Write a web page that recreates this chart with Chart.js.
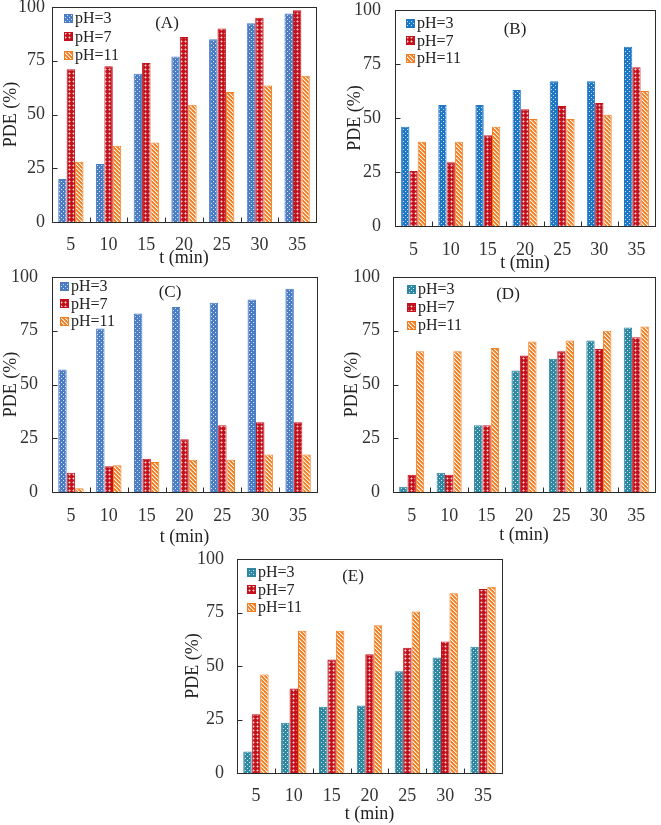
<!DOCTYPE html>
<html>
<head>
<meta charset="utf-8">
<script src="https://cdn.jsdelivr.net/npm/chart.js@4.4.0/dist/chart.umd.min.js"></script>
<style>
  body { margin: 0; background: #fff; width: 661px; height: 825px; position: relative; overflow: hidden; }
  canvas { position: absolute; }
</style>
</head>
<body>
<canvas id="cA"></canvas>
<canvas id="cB"></canvas>
<canvas id="cC"></canvas>
<canvas id="cD"></canvas>
<canvas id="cE"></canvas>
<script>
// data
var times = ['5', '10', '15', '20', '25', '30', '35'];
var phLabels = ['pH=3', 'pH=7', 'pH=11'];
var yTicks = [0, 25, 50, 75, 100];
var panelNames = ['(A)', '(B)', '(C)', '(D)', '(E)'];

var a_ph3  = [20, 27, 69, 77, 85, 92.5, 97];
var a_ph7  = [71, 72.5, 74, 86, 90, 95, 98.5];
var a_ph11 = [28, 35.5, 37, 54.5, 60.5, 63.5, 68];

var b_ph3  = [46, 56, 56, 63, 67, 67, 83];
var b_ph7  = [25.5, 29.5, 42, 54, 55.5, 57, 73.5];
var b_ph11 = [39, 39, 46, 49.5, 49.5, 51.5, 62.5];

var c_ph3  = [57, 76, 83, 86, 88, 89.5, 94.5];
var c_ph7  = [9, 12, 15.5, 24.5, 31, 32.5, 32.5];
var c_ph11 = [1.7, 12.5, 14, 15, 15, 17.5, 17.5];

var d_ph3  = [2.5, 9, 31, 56.5, 62, 70.5, 76.5];
var d_ph7  = [8, 8, 31, 63.5, 65.5, 66.5, 72];
var d_ph11 = [65.5, 65.5, 67, 70, 70.5, 75, 77];

var e_ph3  = [10, 23.5, 31, 31.5, 47.5, 54, 59];
var e_ph7  = [27.5, 39.5, 53, 55.5, 58.5, 61.5, 86];
var e_ph11 = [46, 66.5, 66.5, 69, 75.5, 84, 87];

Chart.defaults.font.family = '"Liberation Serif", "Times New Roman", serif';
Chart.defaults.color = '#333';

function makeTile(base, draw) {
  var c = document.createElement('canvas');
  c.width = 4; c.height = 4;
  var g = c.getContext('2d');
  g.fillStyle = base;
  g.fillRect(0, 0, 4, 4);
  draw(g);
  return g.createPattern(c, 'repeat');
}

function dots(base) {
  return makeTile(base, function (g) {
    g.fillStyle = 'rgba(255,255,255,0.8)';
    g.fillRect(1, 1, 1, 1);
    g.fillRect(3, 3, 1, 1);
  });
}

function checks(base) {
  return makeTile(base, function (g) {
    g.fillStyle = 'rgba(255,255,255,0.85)';
    g.fillRect(1, 1, 1, 1);
    g.fillStyle = 'rgba(255,255,255,0.4)';
    g.fillRect(0, 1, 1, 1); g.fillRect(2, 1, 1, 1);
    g.fillRect(1, 0, 1, 1); g.fillRect(1, 2, 1, 1);
  });
}

function stripes(base) {
  return makeTile(base, function (g) {
    for (var i = 0; i < 4; i++) {
      g.fillStyle = 'rgba(255,255,255,0.95)';
      g.fillRect(i, i, 1, 1);
      g.fillStyle = 'rgba(255,255,255,0.4)';
      g.fillRect((i + 1) % 4, i, 1, 1);
    }
  });
}

var RED = '#C4121D';
var ORANGE = '#F47E1F';

var framePlugin = {
  id: 'frame',
  afterDraw: function (chart, args, opt) {
    var ctx = chart.ctx, a = chart.chartArea;
    var x = chart.scales.x, y = chart.scales.y;
    ctx.save();
    ctx.strokeStyle = '#2a2a2a';
    ctx.lineWidth = 1;
    var l = Math.round(a.left) + 0.5, t = Math.round(a.top) + 0.5;
    var r = Math.round(a.right) + 0.5, b = Math.round(a.bottom) + 0.5;
    ctx.strokeRect(l, t, r - l, b - t);
    ctx.beginPath();
    y.ticks.forEach(function (tk) {
      var py = Math.round(y.getPixelForValue(tk.value)) + 0.5;
      ctx.moveTo(l, py); ctx.lineTo(l + 5, py);
    });
    for (var i = 0; i < x.ticks.length - 1; i++) {
      var px = Math.round((x.getPixelForTick(i) + x.getPixelForTick(i + 1)) / 2) + 0.5;
      ctx.moveTo(px, b); ctx.lineTo(px, b - 5);
    }
    ctx.stroke();

    // legend inside the plot
    ctx.font = '16px "Liberation Serif"';
    ctx.textBaseline = 'middle';
    ctx.textAlign = 'left';
    chart.data.datasets.forEach(function (ds, k) {
      var cy = a.top + opt.legY + k * opt.legGap;
      var bx = a.left + opt.legX;
      ctx.fillStyle = ds.backgroundColor;
      ctx.fillRect(bx, Math.round(cy - 4.5), 9, 9);
      ctx.strokeStyle = ds.borderColor;
      ctx.strokeRect(bx + 0.5, Math.round(cy - 4.5) + 0.5, 8, 8);
      ctx.fillStyle = '#222';
      ctx.fillText(ds.label, bx + 11, cy + 1);
    });

    ctx.font = '17px "Liberation Serif"';
    ctx.textAlign = 'center';
    ctx.fillStyle = '#222';
    ctx.fillText(opt.name, a.left + opt.nameX, a.top + opt.nameY);
    ctx.restore();
  }
};

function panel(id, pos, blue, s3, s7, s11, name) {
  var cv = document.getElementById(id);
  cv.width = pos.w; cv.height = pos.h;
  cv.style.left = pos.x + 'px';
  cv.style.top = pos.y + 'px';
  cv.style.width = pos.w + 'px';
  cv.style.height = pos.h + 'px';

  return new Chart(cv, {
    type: 'bar',
    data: {
      labels: times,
      datasets: [
        { label: phLabels[0], data: s3, backgroundColor: dots(blue), borderColor: blue, borderWidth: 1 },
        { label: phLabels[1], data: s7, backgroundColor: checks(RED), borderColor: RED, borderWidth: 1 },
        { label: phLabels[2], data: s11, backgroundColor: stripes(ORANGE), borderColor: ORANGE, borderWidth: 1 }
      ]
    },
    options: {
      responsive: false,
      animation: false,
      devicePixelRatio: 1,
      layout: { padding: { left: 0, top: pos.pt, right: pos.pr, bottom: 0 } },
      datasets: { bar: { barPercentage: 1, categoryPercentage: 0.67 } },
      plugins: {
        legend: { display: false },
        tooltip: { enabled: false },
        frame: { name: name, legX: pos.legX, legY: pos.legY, legGap: pos.legGap, nameX: pos.nameX, nameY: pos.nameY }
      },
      scales: {
        x: {
          grid: { display: false, drawTicks: false },
          border: { display: false },
          ticks: { font: { size: 18 }, padding: pos.xPad, color: '#333', maxRotation: 0 },
          title: { display: true, text: 't (min)', font: { size: 18 }, color: '#222', padding: 0 },
          afterFit: function (s) { s.height = pos.xh; s.paddingLeft = 0; s.paddingRight = 0; }
        },
        y: {
          min: yTicks[0],
          max: yTicks[yTicks.length - 1],
          grid: { display: false, drawTicks: false },
          border: { display: false },
          ticks: { stepSize: yTicks[1] - yTicks[0], font: { size: 18 }, padding: pos.yPad, color: '#333' },
          title: { display: true, text: 'PDE (%)', font: { size: 18 }, color: '#222', padding: { top: pos.ytp, bottom: 0 } },
          afterFit: function (s) { s.width = pos.yw; s.paddingTop = 0; s.paddingBottom = 0; }
        }
      }
    },
    plugins: [framePlugin]
  });
}

panel('cA', { x: 0, y: 0, w: 330, h: 269, pt: 7, pr: 14, xh: 47, yw: 52, xPad: 12, yPad: 7, ytp: 0,
  legX: 12, legY: 11, legGap: 18.5, nameX: 115, nameY: 17 }, '#4A7DC5', a_ph3, a_ph7, a_ph11, panelNames[0]);
panel('cB', { x: 330, y: 0, w: 331, h: 274, pt: 10, pr: 6, xh: 48, yw: 65, xPad: 13, yPad: 14, ytp: 14,
  legX: 11, legY: 13, legGap: 17.5, nameX: 120, nameY: 20 }, '#1E76C6', b_ph3, b_ph7, b_ph11, panelNames[1]);
panel('cC', { x: 0, y: 265, w: 330, h: 283, pt: 12, pr: 13, xh: 56, yw: 52, xPad: 13, yPad: 14, ytp: 0,
  legX: 8, legY: 9, legGap: 17.5, nameX: 118, nameY: 16 }, '#4A7DC5', c_ph3, c_ph7, c_ph11, panelNames[2]);
panel('cD', { x: 330, y: 265, w: 331, h: 281, pt: 12, pr: 6, xh: 54, yw: 63, xPad: 13, yPad: 13, ytp: 11,
  legX: 14, legY: 12, legGap: 18, nameX: 115, nameY: 18 }, '#2F88A2', d_ph3, d_ph7, d_ph11, panelNames[3]);
panel('cE', { x: 180, y: 545, w: 330, h: 280, pt: 14, pr: 8, xh: 52, yw: 57, xPad: 12, yPad: 13, ytp: 2,
  legX: 10, legY: 13, legGap: 17.5, nameX: 116, nameY: 18 }, '#2F88A2', e_ph3, e_ph7, e_ph11, panelNames[4]);
</script>
</body>
</html>
